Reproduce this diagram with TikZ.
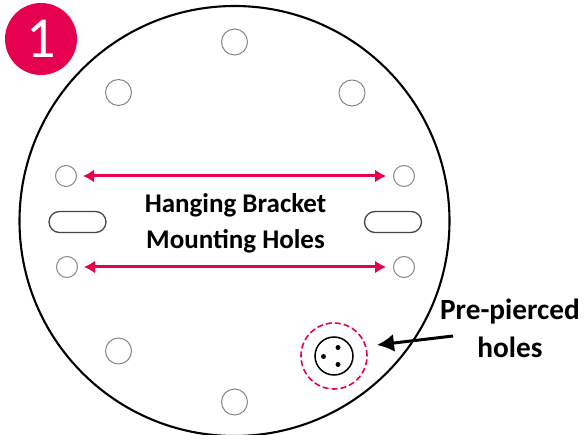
\documentclass[tikz,border=0pt]{standalone}
\usepackage{fontspec}
\setmainfont{Carlito}
\usetikzlibrary{arrows.meta}
\definecolor{crimson}{RGB}{230,0,80}
\definecolor{holegrey}{RGB}{135,135,135}
\definecolor{slotgrey}{RGB}{70,70,70}

\begin{document}
\begin{tikzpicture}
	[x=1pt,y=-1pt,
	plate/.style={circle,draw=black,line width=2.1pt,inner sep=0pt,minimum size=430pt},
	bigHole/.style={circle,draw=holegrey,line width=1pt,inner sep=0pt,minimum size=26pt},
	smallHole/.style={circle,draw=holegrey,line width=1pt,inner sep=0pt,minimum size=21pt},
	slot/.style={rectangle,rounded corners=10.5pt,draw=slotgrey,line width=1.3pt,inner sep=0pt,minimum width=57pt,minimum height=21pt},
	pierced/.style={circle,draw=black,line width=1.5pt,inner sep=0pt,minimum size=38pt},
	pierceRing/.style={circle,draw=crimson,dash pattern=on 6pt off 3pt,line width=1.6pt,inner sep=0pt,minimum size=66pt},
	pin/.style={circle,fill=black,inner sep=0pt,minimum size=5pt},
	label/.style={font=\bfseries\fontsize{27}{36.5}\selectfont,align=center,inner sep=0pt},
	bigLabel/.style={font=\bfseries\fontsize{29.3}{38}\selectfont,align=center,inner sep=0pt},
	redArrow/.style={{Latex[length=11pt,width=13pt]}-{Latex[length=11pt,width=13pt]},draw=crimson,line width=3pt}]
	
	\useasboundingbox (0,0) rectangle (584,435);
	
	% plate outline
	\node (plate) at ( 234.5,221 ) [plate] {};
	
	% number badge
	\node (badge) at ( 41,39 ) [circle,fill=crimson,inner sep=0pt,minimum size=72pt,text=white,font=\fontsize{58}{58}\selectfont] {1};
	
	% outer holes
	\node (top) at ( 234.5,42 ) [bigHole] {};
	\node (topLeft) at ( 118.5,92.5 ) [bigHole] {};
	\node (topRight) at ( 352,93 ) [bigHole] {};
	\node (bottomLeft) at ( 118.5,351 ) [bigHole] {};
	\node (bottom) at ( 234.5,402 ) [bigHole] {};
	
	% bracket holes
	\node (upLeft) at ( 66,176 ) [smallHole] {};
	\node (upRight) at ( 404,176 ) [smallHole] {};
	\node (lowLeft) at ( 67,267 ) [smallHole] {};
	\node (lowRight) at ( 404,267 ) [smallHole] {};
	\node (slotLeft) at ( 77.5,222 ) [slot] {};
	\node (slotRight) at ( 393,222 ) [slot] {};
	
	\draw [redArrow, shorten <=6pt, shorten >=7pt] (upLeft) -- (upRight);
	\draw [redArrow, shorten <=6pt, shorten >=7pt] (lowLeft) -- (lowRight);
	
	\node (bracketText) at ( 235.5,223.5 ) [label] {Hanging Bracket\\Mounting Holes};
	
	% pre-pierced holes
	\node (ring) at ( 334,356 ) [pierceRing] {};
	\node (disc) at ( 334,356 ) [pierced] {};
	\node (pinA) at ( 323.5,356.5 ) [pin] {};
	\node (pinB) at ( 338,347.5 ) [pin] {};
	\node (pinC) at ( 338,364.5 ) [pin] {};
	
	\node (piercedText) at ( 510,328.5 ) [bigLabel] {Pre-pierced\\holes};
	\coordinate (tail) at ( 453,336 );
	\coordinate (tip) at ( 377,345 );
	\draw [-{Latex[length=17pt,width=18pt]}, line width=3pt] (tail) -- (tip);

\end{tikzpicture}
\end{document}
